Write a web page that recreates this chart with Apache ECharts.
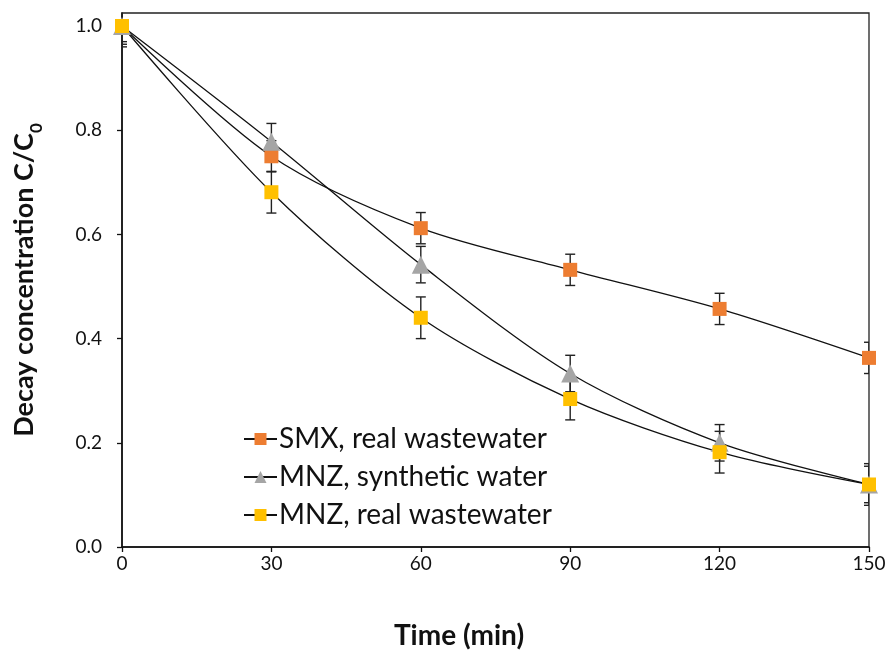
<!DOCTYPE html>
<html>
<head>
<meta charset="utf-8">
<script src="https://cdn.jsdelivr.net/npm/echarts@6/dist/echarts.min.js"></script>
<style>
  html, body { margin: 0; padding: 0; background: #fff; }
  #chart { width: 892px; height: 650px; }
</style>
</head>
<body>
<div id="chart"></div>
<script>
// Sampling times (min)
const times = [0, 30, 60, 90, 120, 150];
const yTicks = [0, 0.2, 0.4, 0.6, 0.8, 1.0];

// Normalised concentration C/C0 and standard deviations
const smxReal = [1.0, 0.750, 0.612, 0.532, 0.457, 0.363];
const smxRealErr = [0.03, 0.03, 0.03, 0.03, 0.03, 0.03];

const mnzSynthetic = [1.0, 0.778, 0.542, 0.333, 0.200, 0.120];
const mnzSyntheticErr = [0.035, 0.035, 0.035, 0.035, 0.035, 0.035];

const mnzReal = [1.0, 0.681, 0.440, 0.284, 0.182, 0.120];
const mnzRealErr = [0.04, 0.04, 0.04, 0.04, 0.04, 0.04];

const FONT = 'Lato, "Open Sans", sans-serif';

function pairs(ys) { return times.map((t, i) => [t, ys[i]]); }
function errData(ys, es) { return times.map((t, i) => [t, ys[i] - es[i], ys[i] + es[i]]); }

function errorSeries(ys, es) {
  return {
    type: 'custom',
    silent: true,
    clip: true,
    z: 1,
    data: errData(ys, es),
    renderItem: function (params, api) {
      const x = api.value(0);
      const lo = api.coord([x, api.value(1)]);
      const hi = api.coord([x, api.value(2)]);
      const cap = 5;
      const st = { stroke: '#222', lineWidth: 1.4 };
      return {
        type: 'group',
        children: [
          { type: 'line', shape: { x1: lo[0], y1: lo[1], x2: hi[0], y2: hi[1] }, style: st },
          { type: 'line', shape: { x1: lo[0] - cap, y1: lo[1], x2: lo[0] + cap, y2: lo[1] }, style: st },
          { type: 'line', shape: { x1: hi[0] - cap, y1: hi[1], x2: hi[0] + cap, y2: hi[1] }, style: st }
        ]
      };
    }
  };
}

function lineSeries(name, ys, color, symbol, size) {
  return {
    name: name,
    type: 'line',
    data: pairs(ys),
    smooth: 0.3,
    symbol: symbol,
    symbolSize: size,
    showAllSymbol: true,
    z: 3,
    lineStyle: { color: '#111', width: 1.3 },
    itemStyle: { color: color, borderWidth: 0 },
    emphasis: { disabled: true }
  };
}

const chart = echarts.init(document.getElementById('chart'), null, { renderer: 'canvas' });

chart.setOption({
  animation: false,
  backgroundColor: '#fff',
  grid: {
    left: 122, right: 23, top: 13, bottom: 103,
    show: true, borderColor: '#222', borderWidth: 1.3
  },
  legend: {
    orient: 'vertical',
    left: 238, top: 420,
    itemWidth: 33, itemHeight: 15,
    itemGap: 10,
    textStyle: { fontFamily: FONT, fontSize: 28, color: '#111', padding: [0, 0, 0, -3] },
    data: ['SMX, real wastewater', 'MNZ, synthetic water', 'MNZ, real wastewater']
  },
  xAxis: {
    type: 'value',
    min: 0, max: 150, interval: 30,
    splitLine: { show: false },
    axisLine: { lineStyle: { color: '#111', width: 1.6 } },
    axisTick: { show: true, length: 5, inside: false, lineStyle: { color: '#111', width: 1.3 } },
    axisLabel: { fontFamily: FONT, fontSize: 19, color: '#111', margin: 7 }
  },
  yAxis: {
    type: 'value',
    min: 0, max: 1.025,
    splitLine: { show: false },
    axisLine: { show: true, lineStyle: { color: '#111', width: 1.6 } },
    axisTick: { show: true, length: 5, inside: false, customValues: yTicks, lineStyle: { color: '#111', width: 1.3 } },
    axisLabel: {
      fontFamily: FONT, fontSize: 19, color: '#111', margin: 20,
      customValues: yTicks,
      formatter: v => v.toFixed(1)
    },
    name: '{a|Decay concentration C/C}{s|0}',
    nameLocation: 'middle',
    nameRotate: 90,
    nameGap: 84,
    nameTextStyle: {
      rich: {
        a: { fontFamily: FONT, fontSize: 27, fontWeight: 'bold', color: '#111', lineHeight: 32, verticalAlign: 'bottom' },
        s: { fontFamily: FONT, fontSize: 17, fontWeight: 'bold', color: '#111', lineHeight: 32, verticalAlign: 'bottom', padding: [0, 0, -7, 0] }
      }
    }
  },
  graphic: [{
    type: 'text',
    x: 459, y: 636,
    style: {
      text: 'Time (min)',
      fontFamily: FONT, fontSize: 28, fontWeight: 'bold', fill: '#111',
      align: 'center', verticalAlign: 'middle'
    }
  }],
  series: [
    errorSeries(smxReal, smxRealErr),
    errorSeries(mnzSynthetic, mnzSyntheticErr),
    errorSeries(mnzReal, mnzRealErr),
    lineSeries('SMX, real wastewater', smxReal, '#ED7D31', 'rect', 14),
    lineSeries('MNZ, synthetic water', mnzSynthetic, '#A5A5A5', 'triangle', 18),
    lineSeries('MNZ, real wastewater', mnzReal, '#FFC000', 'rect', 14)
  ]
});
</script>
</body>
</html>
